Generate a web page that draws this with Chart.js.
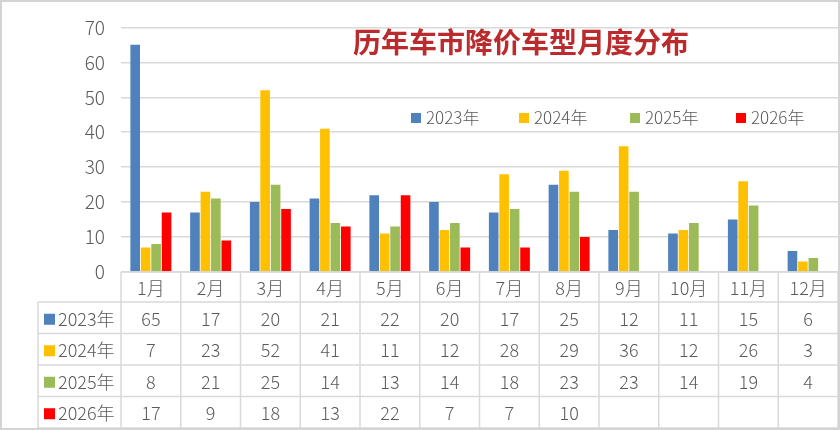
<!DOCTYPE html>
<html>
<head>
<meta charset="utf-8">
<script src="https://cdn.jsdelivr.net/npm/chart.js@4.4.1/dist/chart.umd.min.js"></script>
<style>
  html, body { margin: 0; padding: 0; background: #fff; }
  canvas { display: block; }
</style>
</head>
<body>
<canvas id="grafico" width="840" height="430"></canvas>
<script>
// categorias e séries
const months = ['1月', '2月', '3月', '4月', '5月', '6月', '7月', '8月', '9月', '10月', '11月', '12月'];
const seriesNames = ['2023年', '2024年', '2025年', '2026年'];
const v2023 = [65, 17, 20, 21, 22, 20, 17, 25, 12, 11, 15, 6];
const v2024 = [7, 23, 52, 41, 11, 12, 28, 29, 36, 12, 26, 3];
const v2025 = [8, 21, 25, 14, 13, 14, 18, 23, 23, 14, 19, 4];
const v2026 = [17, 9, 18, 13, 22, 7, 7, 10, null, null, null, null];
const yTicks = [0, 10, 20, 30, 40, 50, 60, 70];
const title = '历年车市降价车型月度分布';

const colors = ['#4f81bd', '#ffc000', '#9bbb59', '#ff0000'];
const allValues = [v2023, v2024, v2025, v2026];
const FONT = '"Noto Sans CJK SC", "Noto Sans", sans-serif';
const TXT = '#5a5a5a';
const LINE = '#d9d9d9';

// desenha título, legenda, tabela de dados e moldura
const extras = {
  id: 'extras',
  beforeDraw(chart) {
    const c = chart.ctx;
    c.save();
    c.fillStyle = '#fff';
    c.fillRect(0, 0, chart.width, chart.height);
    c.restore();
  },
  afterDraw(chart) {
    const c = chart.ctx;
    const area = chart.chartArea;
    const xs = chart.scales.x;
    const colW = area.width / months.length;
    c.save();

    // título
    c.font = 'bold 28px ' + FONT;
    c.fillStyle = '#bb2a2c';
    c.textAlign = 'center';
    c.textBaseline = 'middle';
    c.fillText(title, 521, 42);

    // legenda
    c.font = '300 17px ' + FONT;
    c.textAlign = 'left';
    const legX = [411, 519, 630, 736];
    chart.data.datasets.forEach((ds, i) => {
      c.fillStyle = ds.backgroundColor;
      c.fillRect(legX[i], 113, 10, 10);
      c.fillStyle = TXT;
      c.fillText(ds.label, legX[i] + 15, 118);
    });

    // tabela
    const top = area.bottom;
    const rowH = [30, 31.5, 31.5, 31.5, 31.5];
    const rowY = [top];
    rowH.forEach((h, i) => rowY.push(rowY[i] + h));
    const left = 38;
    const right = area.right;

    c.strokeStyle = LINE;
    c.lineWidth = 1.5;
    c.beginPath();
    // horizontais
    c.moveTo(area.left, rowY[0]); c.lineTo(right, rowY[0]);
    for (let r = 1; r < rowY.length; r++) {
      c.moveTo(left, rowY[r]); c.lineTo(right, rowY[r]);
    }
    // verticais
    c.moveTo(left, rowY[1]); c.lineTo(left, rowY[5]);
    for (let i = 0; i <= months.length; i++) {
      const x = area.left + i * colW;
      c.moveTo(x, rowY[0]); c.lineTo(x, rowY[5]);
    }
    c.stroke();

    c.font = '300 18px ' + FONT;
    c.fillStyle = TXT;
    c.textAlign = 'center';
    months.forEach((m, i) => {
      c.fillText(m, xs.getPixelForValue(i), (rowY[0] + rowY[1]) / 2 + 1);
    });
    chart.data.datasets.forEach((ds, r) => {
      const cy = (rowY[r + 1] + rowY[r + 2]) / 2 + 1;
      c.fillStyle = ds.backgroundColor;
      c.fillRect(44, cy - 5, 11, 11);
      c.fillStyle = TXT;
      c.textAlign = 'left';
      c.fillText(ds.label, 58, cy);
      c.textAlign = 'center';
      ds.data.forEach((v, i) => {
        if (v !== null) c.fillText(String(v), xs.getPixelForValue(i), cy);
      });
    });

    // moldura
    c.strokeStyle = '#d4d4d4';
    c.lineWidth = 2;
    c.strokeRect(1, 1, chart.width - 2, chart.height - 2);
    c.restore();
  }
};

const ctx = document.getElementById('grafico').getContext('2d');
new Chart(ctx, {
  type: 'bar',
  data: {
    labels: months,
    datasets: seriesNames.map((name, i) => ({
      label: name,
      data: allValues[i],
      backgroundColor: colors[i],
      borderWidth: 0,
      categoryPercentage: 0.7,
      barPercentage: 0.92
    }))
  },
  options: {
    responsive: false,
    animation: false,
    devicePixelRatio: 1,
    layout: { padding: { left: 0, top: 12, right: 2, bottom: 158 } },
    plugins: {
      legend: { display: false },
      title: { display: false },
      tooltip: { enabled: false }
    },
    scales: {
      x: { display: false },
      y: {
        min: 0,
        max: 70,
        afterBuildTicks: s => { s.ticks = yTicks.map(v => ({ value: v })); },
        afterFit: s => { s.width = 121; },
        ticks: { color: TXT, font: { size: 19, family: FONT, weight: '300' }, padding: 16 },
        grid: { color: LINE, lineWidth: 1.5, drawTicks: false },
        border: { display: false }
      }
    }
  },
  plugins: [extras]
});
</script>
</body>
</html>
